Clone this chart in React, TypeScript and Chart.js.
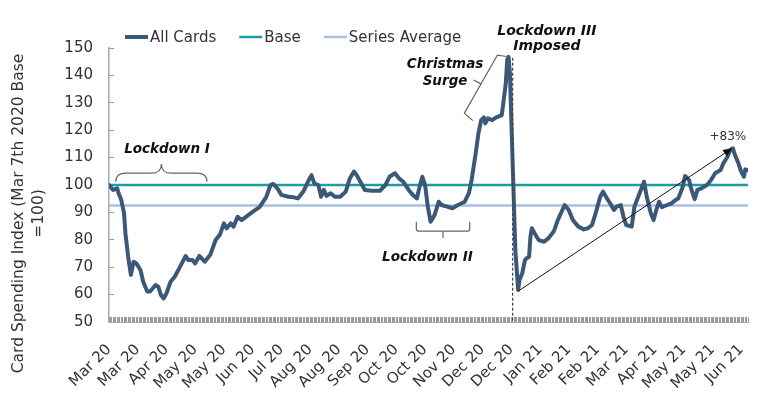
import React, { useEffect, useRef } from 'react';
import { Chart, registerables } from 'chart.js';

Chart.register(...registerables);

// ---- Data (day index since 7 Mar 2020, spending index) ----
const days = [
  0, 3, 6, 7, 9, 11, 12, 14, 16, 18, 20, 23, 25, 28, 30, 34, 36, 38, 40, 42, 45, 48, 52, 56, 58, 61, 63, 66, 70, 74,
  78, 81, 84, 86, 89, 91, 94, 97, 102, 107, 110, 115, 118, 120, 123, 126, 131, 135, 138, 142, 146, 148, 150, 153, 155,
  157, 159, 162, 165, 169, 173, 176, 179, 181, 185, 187, 192, 198, 202, 205, 209, 212, 215, 219, 222, 225, 227, 229,
  231, 233, 235, 238, 241, 243, 247, 251, 255, 260, 263, 265, 268, 270, 272, 274, 275, 277, 280, 283, 287, 288, 290,
  291, 292, 293, 295, 297, 299, 300, 302, 304, 305, 307, 308, 309, 311, 314, 318, 321, 325, 328, 333, 336, 339, 343,
  347, 350, 353, 356, 359, 361, 364, 367, 369, 371, 374, 376, 378, 382, 384, 391, 393, 396, 398, 400, 402, 404, 408,
  411, 414, 416, 419, 421, 424, 425, 428, 430, 433, 437, 440, 443, 447, 449, 452, 454, 456, 457, 460, 462, 464, 465, 467,
];
const allCards = [
  100, 98.2, 98.8, 97, 94.5, 89.7, 82.4, 73.8, 67.2, 72, 71.4, 69, 64.7, 61.1, 61.1, 63.5, 62.9, 59.8, 58.6, 60.5, 64.7,
  66.5, 70.2, 74.1, 72.6, 72.6, 71.4, 74.1, 72, 74.5, 80, 81.8, 86, 84.2, 86, 84.8, 88.4, 87.2, 89.1, 90.9, 91.9, 95.7,
  100, 100.4, 98.8, 96.4, 95.7, 95.5, 95.1, 97.6, 101.8, 103.6, 100.6, 100, 95.7, 98.2, 96, 97, 95.7, 95.7, 97.6, 102.4,
  104.9, 103.6, 100, 98.2, 97.9, 97.9, 100, 103, 104.3, 102.4, 101.2, 98.2, 96.4, 95.1, 99.4, 103, 100, 92.1, 86.6, 89.1,
  93.9, 92.7, 92.1, 91.5, 92.7, 93.9, 97, 101.8, 111.6, 118.9, 123.7, 124.7, 122.5, 124.3, 123.7, 124.7, 125.5, 129.2,
  137.1, 145.6, 146.8, 140.8, 108, 76, 61.7, 65.3, 67.8, 72.6, 73.2, 73.8, 81.1, 84.2, 82.4, 79.9, 79.3, 80.5, 83, 87.2,
  92.7, 90.9, 87.2, 84.8, 83.8, 84.2, 85.4, 90.3, 95.7, 97.6, 95.1, 92.7, 90.9, 92.1, 92.7, 88.4, 85.4, 84.8, 92.1,
  101.2, 95.7, 89.7, 87.2, 90.9, 93.9, 91.9, 92.7, 93.3, 94.5, 95.1, 98.8, 103.3, 101.8, 99.4, 94.8, 98.2, 98.8, 100,
  101.8, 104.3, 105.5, 107.9, 110.3, 112.8, 113.4, 111.6, 107.9, 104.9, 103, 105.7, 105.5,
];
const baseValue = 100;
const seriesAverage = 92.5;
const seriesLabels = ['All Cards', 'Base', 'Series Average'];
const xTickLabels = [
  'Mar 20', 'Mar 20', 'Apr 20', 'May 20', 'May 20', 'Jun 20', 'Jul 20', 'Aug 20', 'Aug 20', 'Sep 20', 'Oct 20',
  'Oct 20', 'Nov 20', 'Dec 20', 'Dec 20', 'Jan 21', 'Feb 21', 'Feb 21', 'Mar 21', 'Apr 21', 'May 21', 'May 21', 'Jun 21',
];
const labelEvery = 21;
const dayMin = 0;
const dayMax = 467;
const yTitle = ['Card Spending Index (Mar 7th 2020 Base', '=100)'];

// ---- Annotation anchors (data units) ----
const lockdown1 = { x1: 5, x2: 71.6, yEnd: 101.2, yMid: 104.3, yTip: 107.7, textX: 42.4, textY: 112.8 };
const lockdown2 = { x1: 224.6, x2: 263.6, yTop: 86.6, yBot: 83.2, yTick: 80.7, textX: 232.7, textY: 73.4 };
const xmas = {
  hookTop: [291.9, 146.8], cornerTop: [283.8, 147.4], cornerBot: [259.7, 126.2], hookBot: [265.9, 123.5],
  tickA: [271.9, 136.9], tickB: [266.3, 138.3], textX: 245.6, line1Y: 143.8, line2Y: 137.6,
};
const lockdown3 = { day: 295, yFrom: 146.4, yTo: 50, textX: 320, line1Y: 155.9, line2Y: 150.5 };
const growthArrow = { from: [299.2, 61.3], to: [455.4, 113.4], textX: 452.3, textY: 117.6, text: '+83%' };

const FONT = "'DejaVu Sans', Verdana, sans-serif";
const COLORS = { cards: '#3c5878', base: '#1d9da2', avg: '#a9bfe0', text: '#333333', note: '#111111', bracket: '#666666' };

const annotatePlugin = {
  id: 'annotate',
  afterDraw(chart: any) {
    const { ctx } = chart;
    const x = chart.scales.x;
    const y = chart.scales.y;
    const px = (d: number) => x.getPixelForValue(d);
    const py = (v: number) => y.getPixelForValue(v);
    ctx.save();

    // Legend
    let lx = 125;
    const ly = 37;
    ctx.font = `15px ${FONT}`;
    ctx.textBaseline = 'middle';
    ctx.textAlign = 'left';
    chart.data.datasets.forEach((ds: any) => {
      ctx.strokeStyle = ds.borderColor;
      ctx.lineWidth = ds.borderWidth;
      ctx.beginPath();
      ctx.moveTo(lx, ly);
      ctx.lineTo(lx + 23, ly);
      ctx.stroke();
      ctx.fillStyle = COLORS.text;
      ctx.fillText(ds.label, lx + 25, ly + 1);
      lx += 25 + ctx.measureText(ds.label).width + 23;
    });

    // Y-axis title
    ctx.save();
    ctx.font = `15.5px ${FONT}`;
    ctx.fillStyle = COLORS.text;
    ctx.textAlign = 'center';
    ctx.textBaseline = 'middle';
    const tCenterY = 213.5;
    yTitle.forEach((line, i) => {
      ctx.save();
      ctx.translate(19 + i * 20, tCenterY);
      ctx.rotate(-Math.PI / 2);
      ctx.fillText(line, 0, 0);
      ctx.restore();
    });
    ctx.restore();

    ctx.strokeStyle = COLORS.bracket;
    ctx.lineWidth = 1.2;

    // Lockdown I brace
    {
      const x1 = px(lockdown1.x1), x2 = px(lockdown1.x2), xc = (x1 + x2) / 2;
      const yE = py(lockdown1.yEnd), yM = py(lockdown1.yMid), yT = py(lockdown1.yTip);
      const r = 10;
      ctx.beginPath();
      ctx.moveTo(x1, yE);
      ctx.quadraticCurveTo(x1, yM, x1 + r, yM);
      ctx.lineTo(xc - r, yM);
      ctx.quadraticCurveTo(xc, yM, xc, yT);
      ctx.quadraticCurveTo(xc, yM, xc + r, yM);
      ctx.lineTo(x2 - r, yM);
      ctx.quadraticCurveTo(x2, yM, x2, yE);
      ctx.stroke();
    }
    // Lockdown II bracket
    {
      const x1 = px(lockdown2.x1), x2 = px(lockdown2.x2), xc = (x1 + x2) / 2;
      const yT = py(lockdown2.yTop), yB = py(lockdown2.yBot), yK = py(lockdown2.yTick);
      ctx.beginPath();
      ctx.moveTo(x1, yT);
      ctx.lineTo(x1, yB - 2);
      ctx.quadraticCurveTo(x1, yB, x1 + 2, yB);
      ctx.lineTo(x2 - 2, yB);
      ctx.quadraticCurveTo(x2, yB, x2, yB - 2);
      ctx.lineTo(x2, yT);
      ctx.moveTo(xc, yB);
      ctx.lineTo(xc, yK);
      ctx.stroke();
    }
    // Christmas bracket
    {
      const P = (p: number[]) => [px(p[0]), py(p[1])];
      const a = P(xmas.hookTop), b = P(xmas.cornerTop), c = P(xmas.cornerBot), d = P(xmas.hookBot);
      const t1 = P(xmas.tickA), t2 = P(xmas.tickB);
      ctx.beginPath();
      ctx.moveTo(a[0], a[1]);
      ctx.lineTo(b[0], b[1]);
      ctx.lineTo(c[0], c[1]);
      ctx.lineTo(d[0], d[1]);
      ctx.moveTo(t1[0], t1[1]);
      ctx.lineTo(t2[0], t2[1]);
      ctx.stroke();
    }
    // Lockdown III dashed line
    {
      ctx.save();
      ctx.strokeStyle = '#444444';
      ctx.setLineDash([3, 2]);
      ctx.lineWidth = 1.2;
      const xd = px(lockdown3.day);
      ctx.beginPath();
      ctx.moveTo(xd, py(lockdown3.yFrom));
      ctx.lineTo(xd, py(lockdown3.yTo));
      ctx.stroke();
      ctx.restore();
    }
    // Growth arrow
    {
      const x0 = px(growthArrow.from[0]), y0 = py(growthArrow.from[1]);
      const x1 = px(growthArrow.to[0]), y1 = py(growthArrow.to[1]);
      const ang = Math.atan2(y1 - y0, x1 - x0);
      const L = 9, W = 4;
      ctx.strokeStyle = '#111111';
      ctx.fillStyle = '#111111';
      ctx.lineWidth = 1;
      ctx.beginPath();
      ctx.moveTo(x0, y0);
      ctx.lineTo(x1 - L * Math.cos(ang), y1 - L * Math.sin(ang));
      ctx.stroke();
      ctx.beginPath();
      ctx.moveTo(x1, y1);
      ctx.lineTo(x1 - L * Math.cos(ang) + W * Math.sin(ang), y1 - L * Math.sin(ang) - W * Math.cos(ang));
      ctx.lineTo(x1 - L * Math.cos(ang) - W * Math.sin(ang), y1 - L * Math.sin(ang) + W * Math.cos(ang));
      ctx.closePath();
      ctx.fill();
      ctx.font = `12px ${FONT}`;
      ctx.fillStyle = COLORS.text;
      ctx.textAlign = 'center';
      ctx.textBaseline = 'middle';
      ctx.fillText(growthArrow.text, px(growthArrow.textX), py(growthArrow.textY));
    }

    // Annotation texts
    ctx.fillStyle = COLORS.note;
    ctx.textAlign = 'center';
    ctx.textBaseline = 'middle';
    ctx.font = `italic bold 13.5px ${FONT}`;
    ctx.fillText('Lockdown I', px(lockdown1.textX), py(lockdown1.textY));
    ctx.fillText('Lockdown II', px(lockdown2.textX), py(lockdown2.textY));
    ctx.fillText('Christmas', px(xmas.textX), py(xmas.line1Y));
    ctx.fillText('Surge', px(xmas.textX), py(xmas.line2Y));
    ctx.font = `italic bold 14px ${FONT}`;
    ctx.fillText('Lockdown III', px(lockdown3.textX), py(lockdown3.line1Y));
    ctx.fillText('Imposed', px(lockdown3.textX), py(lockdown3.line2Y));

    ctx.restore();
  },
};

export default function App() {
  const canvasRef = useRef<HTMLCanvasElement>(null);

  useEffect(() => {
    if (!canvasRef.current) return;
    const chart = new Chart(canvasRef.current, {
      type: 'line',
      data: {
        datasets: [
          {
            label: seriesLabels[0],
            data: days.map((d, i) => ({ x: d, y: allCards[i] })),
            borderColor: COLORS.cards,
            backgroundColor: COLORS.cards,
            borderWidth: 4,
            pointRadius: 0,
            tension: 0,
            borderJoinStyle: 'round',
            borderCapStyle: 'round',
          },
          {
            label: seriesLabels[1],
            data: [
              { x: dayMin, y: baseValue },
              { x: dayMax, y: baseValue },
            ],
            borderColor: COLORS.base,
            backgroundColor: COLORS.base,
            borderWidth: 2.5,
            pointRadius: 0,
          },
          {
            label: seriesLabels[2],
            data: [
              { x: dayMin, y: seriesAverage },
              { x: dayMax, y: seriesAverage },
            ],
            borderColor: COLORS.avg,
            backgroundColor: COLORS.avg,
            borderWidth: 2.5,
            pointRadius: 0,
          },
        ],
      },
      options: {
        animation: false,
        responsive: true,
        maintainAspectRatio: false,
        layout: { padding: { top: 48, right: 11, left: 0, bottom: 0 } },
        plugins: { legend: { display: false }, tooltip: { enabled: false } },
        scales: {
          x: {
            type: 'linear',
            min: dayMin,
            max: dayMax,
            afterFit: (s: any) => {
              s.height = 71;
              s.paddingRight = 0;
              s.paddingLeft = 0;
            },
            border: { display: true, color: '#aaaaaa', width: 1 },
            grid: { drawOnChartArea: false, drawTicks: true, tickLength: -5, color: '#9a9a9a' },
            ticks: {
              stepSize: 1,
              autoSkip: false,
              maxRotation: 45,
              minRotation: 45,
              padding: 24,
              color: COLORS.text,
              font: { family: FONT, size: 15 },
              callback: (value: any) => {
                const v = Number(value);
                return v % labelEvery === 0 ? xTickLabels[v / labelEvery] ?? '' : '';
              },
            },
          },
          y: {
            min: 50,
            max: 150,
            afterFit: (s: any) => {
              s.width = 109;
            },
            border: { display: true, color: '#aaaaaa', width: 1.5 },
            grid: { drawOnChartArea: false, drawTicks: true, tickLength: -5, color: '#9a9a9a' },
            ticks: {
              stepSize: 10,
              padding: 21,
              color: COLORS.text,
              font: { family: FONT, size: 15 },
            },
          },
        },
      },
      plugins: [annotatePlugin],
    } as any);
    return () => chart.destroy();
  }, []);

  return (
    <div style={{ position: 'fixed', left: 0, top: 0, width: 759, height: 393, background: '#ffffff' }}>
      <canvas ref={canvasRef} />
    </div>
  );
}
